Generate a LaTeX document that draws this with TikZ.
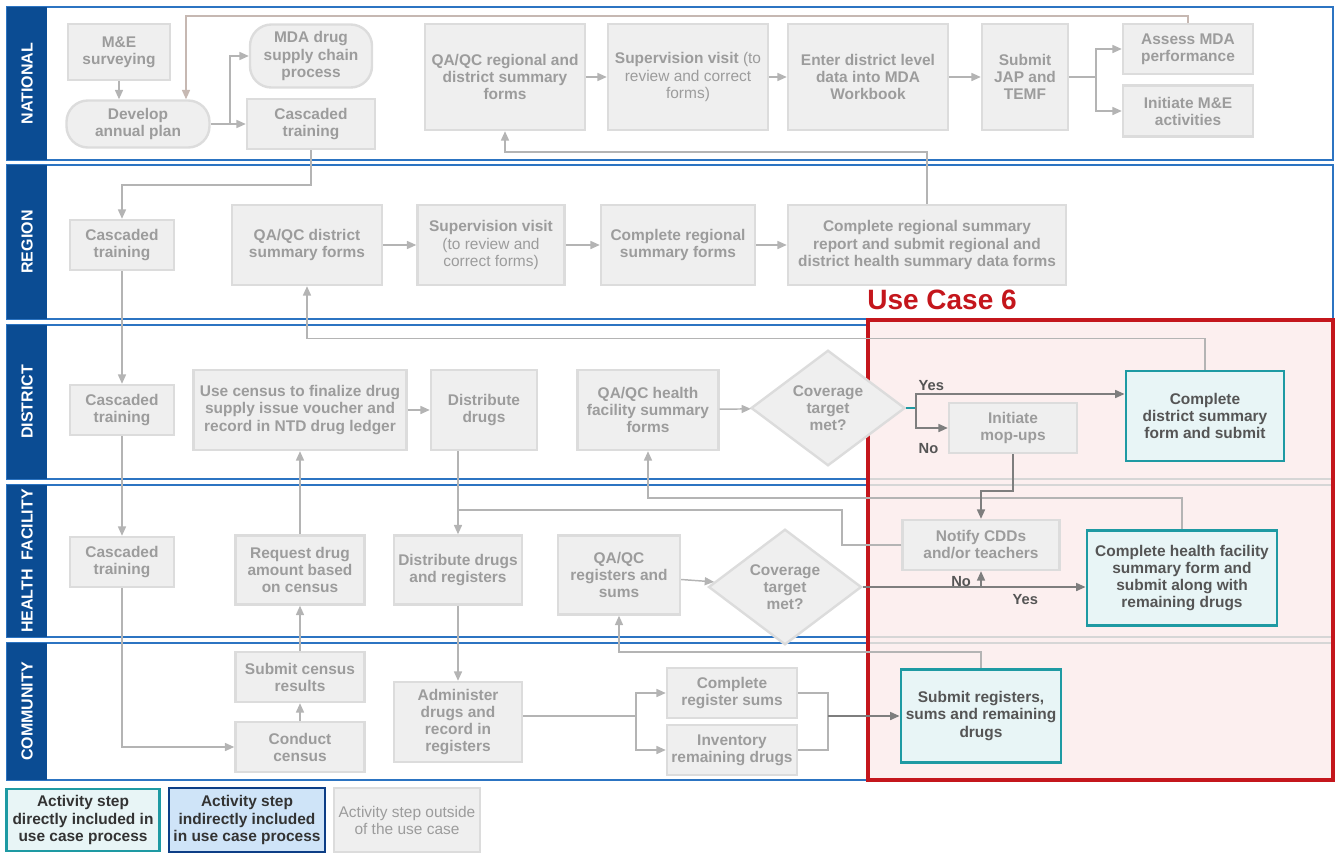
\documentclass[tikz,border=0pt]{standalone}
\usepackage{fontspec}
\setmainfont{Liberation Sans}
\usetikzlibrary{positioning,shapes.geometric,arrows.meta}

\definecolor{lanebar}{HTML}{0B4C93}
\definecolor{laneline}{HTML}{2C74C2}
\definecolor{boxfill}{HTML}{EFEFEF}
\definecolor{boxline}{HTML}{DCDCDC}
\definecolor{boxtext}{HTML}{9C9C9C}
\definecolor{arrowgrey}{HTML}{B4B4B4}
\definecolor{arrowwarm}{HTML}{C6B8B2}
\definecolor{arrowdark}{HTML}{7E7E7E}
\definecolor{tealline}{HTML}{1E9AA3}
\definecolor{tealfill}{HTML}{E8F5F6}
\definecolor{tealtext}{HTML}{555555}
\definecolor{ucred}{HTML}{C4161C}
\definecolor{ucfill}{HTML}{FCEFEF}
\definecolor{ucgrey}{HTML}{D6D6D6}
\definecolor{legblue}{HTML}{0D3E86}
\definecolor{legfill}{HTML}{CFE4F8}

\begin{document}
\begin{tikzpicture}[x=0.75pt,y=-0.75pt,
	font=\bfseries\fontsize{11.6}{12.8}\selectfont,
	boxsize/.style 2 args={minimum width=#1*0.75pt,minimum height=#2*0.75pt},
	greybox/.style={draw=boxline,fill=boxfill,line width=1.8pt,text=boxtext,align=center,inner sep=0pt},
	pillbox/.style={greybox,rounded corners=16pt},
	decision/.style={greybox,diamond},
	tealbox/.style={draw=tealline,fill=tealfill,line width=2.2pt,text=tealtext,align=center,inner sep=0pt},
	flow/.style={draw=arrowgrey,line width=1.1pt,-{Triangle[length=7pt,width=6pt]}},
	flowline/.style={draw=arrowgrey,line width=1.1pt},
	darkflow/.style={draw=arrowdark,line width=1.1pt,-{Triangle[length=7pt,width=6pt]}},
	yesno/.style={text=tealtext,inner sep=0pt,font=\bfseries\fontsize{11}{12}\selectfont}]
	\useasboundingbox (0,0) rectangle (1335,854);

	%lanes
	\foreach \ytop/\ybot/\lane [count=\i] in {7/160/NATIONAL,165/319/REGION,325/479/DISTRICT,485/637/HEALTH~~FACILITY,643/780/COMMUNITY}{
		\draw[laneline,line width=1.8pt] (7,\ytop) rectangle (1333,\ybot);
		\fill[lanebar] (7,\ytop) rectangle (47,\ybot);
		\node[rotate=90,text=white,font=\bfseries\fontsize{12}{14}\selectfont] (lane\i) at (27,{(\ytop+\ybot)/2}) {\lane};
	}

	%use case 6 frame
	\fill[ucfill] (868,320) rectangle (1333,780);
	\foreach \yy in {479,485,637,643} \draw[ucgrey,line width=1.8pt] (869,\yy) -- (1332,\yy); %lane edges inside
	\draw[ucred,line width=2.6pt] (868,320) rectangle (1333,780);
	\node[text=ucred,font=\bfseries\fontsize{21}{24}\selectfont] (uc6) at (942,300) {Use Case 6};

	%National----------------------------------
		\node[greybox,boxsize={102}{56}] (me) at (119,52) {M\&E\\surveying};
		\node[pillbox,boxsize={143}{47}] (dev) at (138,124) {Develop\\annual plan};
		\node[pillbox,boxsize={122}{63}] (mda) at (311,56) {MDA drug\\supply chain\\process};
		\node[greybox,boxsize={128}{50}] (cascN) at (311,124) {Cascaded\\training};
		\node[greybox,boxsize={160}{106}] (qaN) at (505,77) {QA/QC regional and\\district summary\\forms};
		\node[greybox,boxsize={160}{106}] (supN) at (688,77) {Supervision visit {\mdseries(to}\\{\mdseries review and correct}\\{\mdseries forms)}};
		\node[greybox,boxsize={160}{106}] (enter) at (868,77) {Enter district level\\data into MDA\\Workbook};
		\node[greybox,boxsize={86}{106}] (jap) at (1025,77) {Submit\\JAP and\\TEMF};
		\node[greybox,boxsize={130}{50}] (assess) at (1188,49) {Assess MDA\\performance};
		\node[greybox,boxsize={130}{51}] (initme) at (1188,111) {Initiate M\&E\\activities};

	%Region------------------------------------
		\node[greybox,boxsize={104}{50}] (cascR) at (122,245) {Cascaded\\training};
		\node[greybox,boxsize={150}{80}] (qaR) at (307,245) {QA/QC district\\summary forms};
		\node[greybox,boxsize={147}{80}] (supR) at (491,245) {Supervision visit\\{\mdseries(to review and}\\{\mdseries correct forms)}};
		\node[greybox,boxsize={154}{80}] (compR) at (678,245) {Complete regional\\summary forms};
		\node[greybox,boxsize={278}{80}] (repR) at (927,245) {Complete regional summary\\report and submit regional and\\district health summary data forms};

	%District----------------------------------
		\node[greybox,boxsize={104}{50}] (cascD) at (122,410) {Cascaded\\training};
		\node[greybox,boxsize={213}{80}] (census) at (300,410) {Use census to finalize drug\\supply issue voucher and\\record in NTD drug ledger};
		\node[greybox,boxsize={106}{80}] (distD) at (484,410) {Distribute\\drugs};
		\node[greybox,boxsize={141}{80}] (qaD) at (648,410) {QA/QC health\\facility summary\\forms};
		\node[decision,boxsize={154}{112}] (covD) at (828,408) {Coverage\\target\\met?};
		\node[greybox,boxsize={128}{50}] (mop) at (1013,428) {Initiate\\mop-ups};
		\node[tealbox,boxsize={158}{90}] (compD) at (1205,416) {Complete\\district summary\\form and submit};

	%Health facility---------------------------
		\node[greybox,boxsize={104}{50}] (cascH) at (122,562) {Cascaded\\training};
		\node[greybox,boxsize={129}{69}] (request) at (300,570) {Request drug\\amount based\\on census};
		\node[greybox,boxsize={128}{69}] (distH) at (458,570) {Distribute drugs\\and registers};
		\node[greybox,boxsize={122}{79}] (qaH) at (619,575) {QA/QC\\registers and\\sums};
		\node[decision,boxsize={153}{110}] (covH) at (785,587) {Coverage\\target\\met?};
		\node[greybox,boxsize={157}{50}] (notify) at (981,545) {Notify CDDs\\and/or teachers};
		\node[tealbox,boxsize={190}{95}] (compH) at (1182,578) {Complete health facility\\summary form and\\submit along with\\remaining drugs};

	%Community---------------------------------
		\node[greybox,boxsize={129}{50}] (subc) at (300,677) {Submit census\\results};
		\node[greybox,boxsize={129}{50}] (conduct) at (300,747) {Conduct\\census};
		\node[greybox,boxsize={128}{80}] (admin) at (458,722) {Administer\\drugs and\\record in\\registers};
		\node[greybox,boxsize={130}{50}] (regsum) at (732,693) {Complete\\register sums};
		\node[greybox,boxsize={130}{50}] (inv) at (732,750) {Inventory\\remaining drugs};
		\node[tealbox,boxsize={160}{93}] (subreg) at (981,716) {Submit registers,\\sums and remaining\\drugs};

	%legend
		\node[tealbox,boxsize={153}{62},text=black!80] (legDirect) at (83,820) {Activity step\\directly included in\\use case process};
		\node[tealbox,draw=legblue,fill=legfill,boxsize={156}{64},text=black!80] (legIndirect) at (247,820) {Activity step\\indirectly included\\in use case process};
		\node[greybox,boxsize={146}{64},font=\fontsize{11.6}{12.8}\selectfont] (legOutside) at (407,820) {Activity step outside\\of the use case};

	%national arrows
		\draw[flow] (me) -- (me |- dev.north); %survey to plan
		\coordinate (loopN) at (186,16);
		\draw[flow,draw=arrowwarm] (assess.north) |- (loopN) -- (loopN |- dev.north); %loop back to plan
		\draw[flow] (dev) -- (cascN);
		\coordinate (forkN) at (230,124);
		\draw[flow] (forkN) |- (mda.west);
		\draw[flow] (cascN.south) -- ++(0,35) -| (cascR.north); %down to region
		\draw[flow] (qaN) -- (supN);
		\draw[flow] (supN) -- (enter);
		\draw[flow] (enter) -- (jap);
		\coordinate (forkJ) at (1096,77);
		\draw[flowline] (jap) -- (forkJ);
		\draw[flow] (forkJ) |- (assess.west);
		\draw[flow] (forkJ) |- (initme.west);

	%region and district arrows
		\draw[flow] (qaR) -- (supR);
		\draw[flow] (supR) -- (compR);
		\draw[flow] (compR) -- (repR);
		\draw[flow] (repR.north) -- ++(0,-52) -| (qaN.south); %up to national
		\draw[flow] (cascR) -- (cascD);
		\draw[flow] (cascD) -- (cascH);
		\draw[flow] (cascH.south) |- (conduct.west);
		\draw[flow] (conduct) -- (subc);
		\draw[flow] (subc) -- (request);
		\draw[flow] (request) -- (census);
		\draw[flow] (census) -- (distD);
		\draw[flow] (distH |- distD.south) -- (distH); %drugs down
		\coordinate (jnH) at (458,510);
		\coordinate (bendH) at (842,510);
		\draw[flowline] (notify.west) -| (bendH) -- (jnH); %mop-up drugs
		\draw[flow] (compD.north) -- ++(0,-31) -| (qaR.south);
		\draw[flow] (compH.north) -- ++(0,-31) -| (qaD.south);
		\draw[flow] (qaD) -- (covD);
		\draw[flow] (qaH) -- (covH);
		\draw[flow] (distH) -- (admin);
		\draw[flow] (subreg.north) -- ++(0,-16) -| (qaH.south);

	%use case arrows
		\coordinate (forkD) at (916,408);
		\coordinate (yesD) at (916,394);
		\draw[tealline,line width=1.1pt] (covD.east) -- (forkD);
		\draw[darkflow] (forkD) |- node[pos=0.5,yesno,anchor=south west,xshift=1.5pt,yshift=2pt] (yesDl) {Yes} (yesD -| compD.west);
		\draw[darkflow] (forkD) |- node[pos=0.5,yesno,anchor=north west,xshift=1.5pt,yshift=-11pt] (noDl) {No} (mop.west);
		\draw[darkflow] (mop.south) -- ++(0,37) -| (notify.north);
		\draw[darkflow] (covH.east) -- node[pos=0.73,yesno,below=5pt] (yesHl) {Yes} (covH.east -| compH.west);
		\draw[darkflow] (notify.south |- covH.east) -- node[pos=0.35,yesno,left=7pt] (noHl) {No} (notify.south);

	%community arrows
		\coordinate (forkA) at (636,716);
		\draw[flowline] (admin.east |- forkA) -- (forkA);
		\draw[flow] (forkA) |- (regsum.west);
		\draw[flow] (forkA) |- (inv.west);
		\coordinate (joinR) at (828,716);
		\draw[flowline] (regsum.east) -| (joinR);
		\draw[flowline] (inv.east) -| (joinR);
		\draw[darkflow] (joinR) -- (subreg);
\end{tikzpicture}
\end{document}
